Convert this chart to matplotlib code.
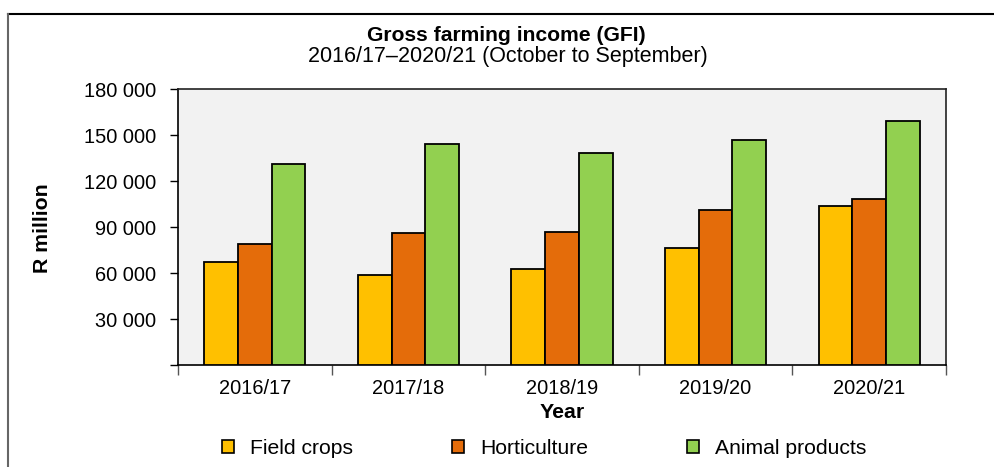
import matplotlib
matplotlib.use("Agg")
import matplotlib.pyplot as plt
import matplotlib.patches as patches
from matplotlib.lines import Line2D
import numpy as np

plt.rcParams['font.family'] = ['Liberation Sans', 'DejaVu Sans']

# Data (R million)
years = ["2016/17", "2017/18", "2018/19", "2019/20", "2020/21"]
field_crops = [67000, 58800, 62700, 76400, 104000]
horticulture = [79200, 86400, 86600, 101400, 108400]
animal_products = [131200, 144500, 138400, 146900, 159300]
series_names = ["Field crops", "Horticulture", "Animal products"]
yticks = [0, 30000, 60000, 90000, 120000, 150000, 180000]

colors = ["#FFC000", "#E46C0A", "#92D050"]
fs_tick = 14.4
fs_lab = 15.3

fig = plt.figure(figsize=(9.95, 4.67), dpi=100)
ax = fig.add_axes([178/995, 1 - 365/467, 768/995, 275.7/467])
ax.set_facecolor("#F2F2F2")

x = np.arange(len(years))
w = 0.22
for i, (vals, col) in enumerate(zip([field_crops, horticulture, animal_products], colors)):
    ax.bar(x + (i - 1) * w, vals, width=w, color=col, edgecolor="black",
           linewidth=1.3, label=series_names[i], zorder=3)

ax.set_xlim(-0.5, len(years) - 0.5)
ax.set_ylim(0, 180000)

# y axis
ax.set_yticks(yticks)
ax.set_yticklabels([""] + [f"{v:,}".replace(",", " ") for v in yticks[1:]])
ax.tick_params(axis="y", direction="out", length=6, width=1, pad=10, labelsize=fs_tick)

# x axis: labels at centres, tick marks at group boundaries
ax.set_xticks(x)
ax.set_xticklabels(years)
ax.tick_params(axis="x", which="major", length=0, pad=10, labelsize=fs_tick)
ax.set_xticks(np.arange(-0.5, len(years)), minor=True)
ax.tick_params(axis="x", which="minor", direction="out", length=7, width=1, color="#555555")

for s in ["left", "bottom"]:
    ax.spines[s].set_color("black")
    ax.spines[s].set_linewidth(1.2)
for s in ["top", "right"]:
    ax.spines[s].set_color("#222222")
    ax.spines[s].set_linewidth(1.2)

ax.set_ylabel("R million", fontsize=fs_lab, fontweight="bold", va="center")
ax.yaxis.set_label_coords(-0.1764, 0.497)
ax.set_xlabel("Year", fontsize=fs_lab, fontweight="bold", va="center")
ax.xaxis.set_label_coords(0.5, -0.174)

# titles, placed by baseline
fig.text(0.5085, 1 - 41/467, "Gross farming income (GFI)", ha="center", va="baseline",
         fontsize=15.2, fontweight="bold")
fig.text(0.5105, 1 - 62/467, "2016/17\u20132020/21 (October to September)", ha="center",
         va="baseline", fontsize=15.5)

handles = [patches.Patch(facecolor=c, edgecolor="black", linewidth=1.2) for c in colors]
fig.legend(handles, series_names, loc="center", bbox_to_anchor=(544/995, 1 - 448/467),
           ncol=3, frameon=False, fontsize=15.2, handlelength=0.57, handleheight=0.57,
           handletextpad=0.76, columnspacing=4.69, borderpad=0, borderaxespad=0)

# outer frame (top and left edges visible)
fig.add_artist(Line2D([8/995, 1], [1 - 14/467, 1 - 14/467], color="black", linewidth=1.5,
                      transform=fig.transFigure))
fig.add_artist(Line2D([8/995, 8/995], [0, 1 - 14/467], color="#666666", linewidth=1.5,
                      transform=fig.transFigure))

fig.savefig("out.png", dpi=100)
